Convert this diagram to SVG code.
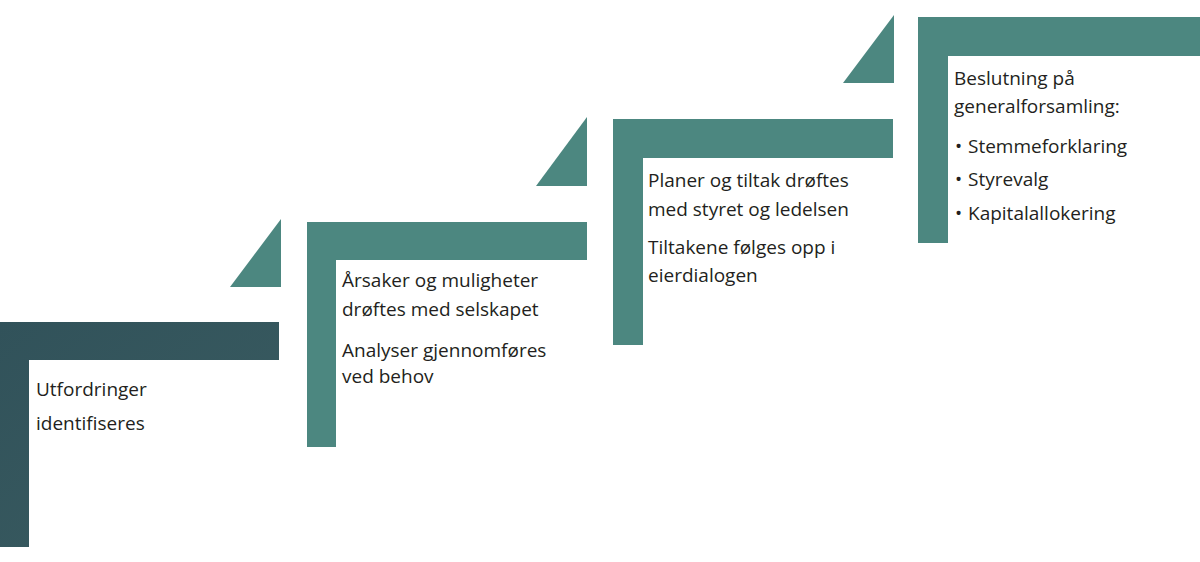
<svg xmlns="http://www.w3.org/2000/svg" width="1200" height="562" viewBox="0 0 1200 562">
<style>
.step{fill:#4c8780}
.tri{fill:#4c8780}
.t{font-family:"Open Sans","Noto Sans",sans-serif;font-size:19px;fill:#231f20}
</style>
<defs>
<linearGradient id="g1" x1="0" y1="0" x2="1" y2="1">
<stop offset="0" stop-color="#31525a"/>
<stop offset="1" stop-color="#3a5c61"/>
</linearGradient>
</defs>
<rect width="1200" height="562" fill="#ffffff"/>
<g id="connectors">
<polygon class="tri" points="281,219 281,287 230,287"/>
<polygon class="tri" points="587,117 587,186 536,186"/>
<polygon class="tri" points="894,15 894,83 843,83"/>
</g>
<g id="node1">
<polygon fill="url(#g1)" points="0,322 279,322 279,360 29,360 29,547 0,547"/>
<text class="t" x="36" y="396">Utfordringer</text>
<text class="t" x="36" y="430">identifiseres</text>
</g>
<g id="node2">
<polygon class="step" points="307,222 587,222 587,260 336,260 336,447 307,447"/>
<text class="t" x="342" y="287">Årsaker og muligheter</text>
<text class="t" x="342" y="316">drøftes med selskapet</text>
<text class="t" x="342" y="357">Analyser gjennomføres</text>
<text class="t" x="342" y="383">ved behov</text>
</g>
<g id="node3">
<polygon class="step" points="613,119 893,119 893,158 643,158 643,345 613,345"/>
<text class="t" x="648" y="187">Planer og tiltak drøftes</text>
<text class="t" x="648" y="216">med styret og ledelsen</text>
<text class="t" x="648" y="254">Tiltakene følges opp i</text>
<text class="t" x="648" y="282">eierdialogen</text>
</g>
<g id="node4">
<polygon class="step" points="918,17 1200,17 1200,56 948,56 948,243 918,243"/>
<text class="t" x="954" y="85">Beslutning på</text>
<text class="t" x="954" y="113">generalforsamling:</text>
<text class="t" x="955" y="153">•</text>
<text class="t" x="968" y="153">Stemmeforklaring</text>
<text class="t" x="955" y="186">•</text>
<text class="t" x="968" y="186">Styrevalg</text>
<text class="t" x="955" y="220">•</text>
<text class="t" x="968" y="220">Kapitalallokering</text>
</g>
</svg>
